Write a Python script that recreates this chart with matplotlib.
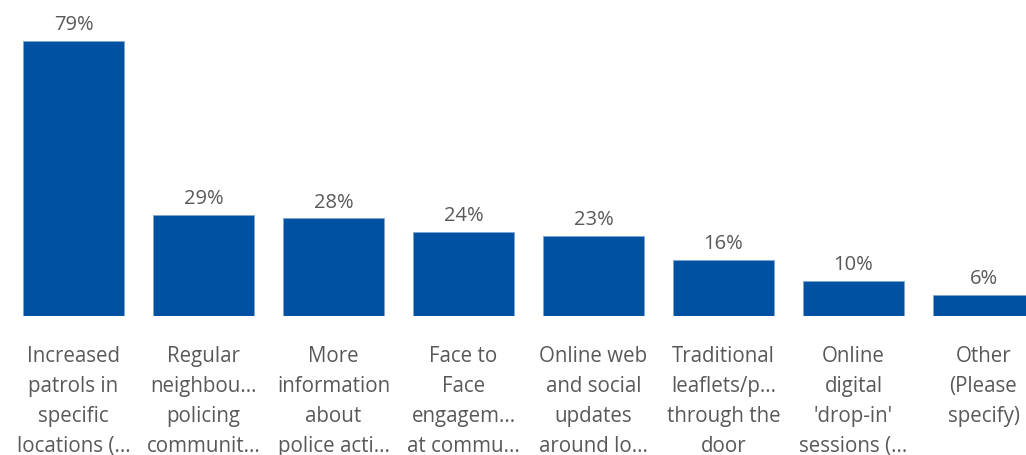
import matplotlib.pyplot as plt

# etiquetas ya truncadas tal como aparecen en el gráfico
labels = [
    "Increased\npatrols in\nspecific\nlocations (...",
    "Regular\nneighbou...\npolicing\ncommunit...",
    "More\ninformation\nabout\npolice acti...",
    "Face to\nFace\nengagem...\nat commu...",
    "Online web\nand social\nupdates\naround lo...",
    "Traditional\nleaflets/p...\nthrough the\ndoor",
    "Online\ndigital\n'drop-in'\nsessions (...",
    "Other\n(Please\nspecify)",
]
values = [79, 29, 28, 24, 23, 16, 10, 6]

bar_color = "#0051a2"
text_color = "#595959"

plt.rcParams['font.family'] = ['Open Sans', 'DejaVu Sans']

fig = plt.figure(figsize=(10.26, 4.56), dpi=100)
ax = fig.add_axes([0, 139 / 456, 1, 317 / 456])

x = list(range(len(values)))
bars = ax.bar(x, values, width=0.78, color=bar_color, edgecolor="#7fa6d0", linewidth=0.6)

for xi, v in zip(x, values):
    ax.annotate("{}%".format(v), (xi, v), xytext=(0, 5), textcoords="offset points",
                ha="center", va="bottom", fontsize=14.5, color=text_color)

ax.set_xlim(-0.565, 7.327)
ax.set_ylim(0, 91)
ax.set_xticks(x)
ax.set_xticklabels(labels, fontsize=14.8, color=text_color, linespacing=1.56, va="top")
ax.tick_params(axis="x", length=0, pad=21)
ax.set_yticks([])
for s in ax.spines.values():
    s.set_visible(False)

fig.savefig("out.png", dpi=100)
